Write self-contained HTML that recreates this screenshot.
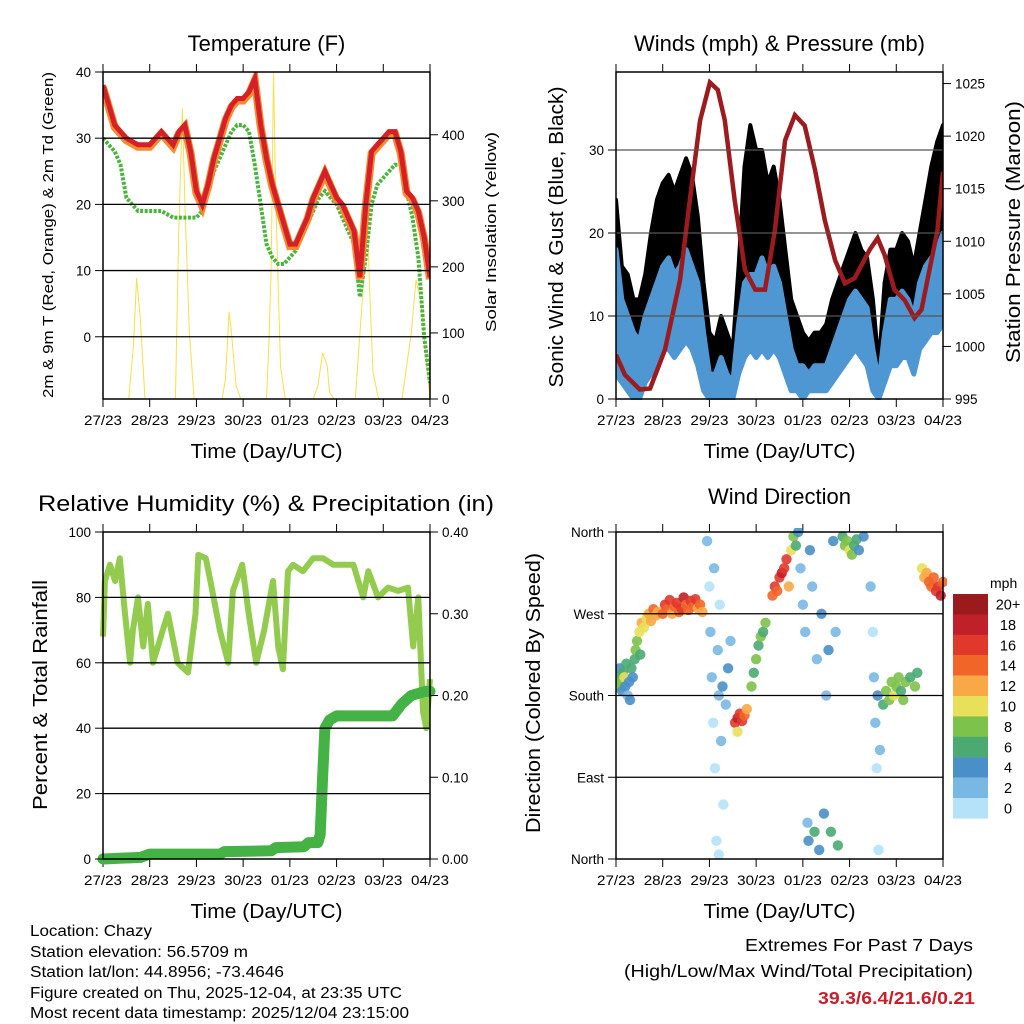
<!DOCTYPE html>
<html><head><meta charset="utf-8"><style>
html,body{margin:0;padding:0;background:#fff;}
svg{display:block;font-family:"Liberation Sans",sans-serif;}
</style></head><body>
<svg id="chart" width="1024" height="1024" viewBox="0 0 1024 1024" xmlns="http://www.w3.org/2000/svg">
<rect width="1024" height="1024" fill="#fff"/>
<g id="g1"></g>
<g id="g2"></g>
<g id="g3"></g>
<g id="g4"></g>
<g font-size="15.5" fill="#000">
<text x="30" y="936" textLength="122" lengthAdjust="spacingAndGlyphs">Location: Chazy</text>
<text x="30" y="957" textLength="218" lengthAdjust="spacingAndGlyphs">Station elevation: 56.5709 m</text>
<text x="30" y="977" textLength="254" lengthAdjust="spacingAndGlyphs">Station lat/lon: 44.8956; -73.4646</text>
<text x="30" y="998" textLength="372" lengthAdjust="spacingAndGlyphs">Figure created on Thu, 2025-12-04, at 23:35 UTC</text>
<text x="30" y="1018" textLength="379" lengthAdjust="spacingAndGlyphs">Most recent data timestamp: 2025/12/04 23:15:00</text>
</g>
<g font-size="17.5">
<text x="745" y="951" textLength="228" lengthAdjust="spacingAndGlyphs">Extremes For Past 7 Days</text>
<text x="624" y="977" textLength="349" lengthAdjust="spacingAndGlyphs">(High/Low/Max Wind/Total Precipitation)</text>
<text x="818" y="1004" textLength="157" lengthAdjust="spacingAndGlyphs" font-weight="bold" fill="#c8202a">39.3/6.4/21.6/0.21</text>
</g>
</svg>
<script>
// ---------- data ----------
const dayLabels=["27/23","28/23","29/23","30/23","01/23","02/23","03/23","04/23"];
const tempTimes=[0,0.125,0.25,0.375,0.5,0.625,0.75,0.875,1,1.125,1.25,1.375,1.5,1.625,1.75,1.875,2,2.125,2.25,2.375,2.5,2.625,2.75,2.875,3,3.125,3.25,3.375,3.5,3.625,3.75,3.875,4,4.125,4.25,4.375,4.5,4.625,4.75,4.875,5,5.125,5.25,5.375,5.5,5.625,5.75,5.875,6,6.125,6.25,6.375,6.5,6.625,6.75,6.875,7];
const tempRed=[38,35,32,31,30,29.5,29,29,29,30,31,30,29,31,32,28,22,20,23,27,30,33,35,36,36,37,39,32,27,23,20,17,14,14,16,18,21,23,25,23,21,20,18,16,9,20,28,29,30,31,31,28,22,21,19,15,9];
const tempDew=[30,29,28,26,21,20,19,19,19,19,19,18.5,18,18,18,18,18,19,22,25,27,29,31,32,32,31,26,20,14,12,11,11,12,13,15,17,19,21,22,21,20,18,16,14,6,12,20,23,24,25,26,26,22,18,12,0,-7];
const solarTimes=[0,0.55,0.65,0.72,0.8,0.9,1.55,1.62,1.7,1.75,1.85,1.95,2.55,2.62,2.7,2.75,2.85,2.95,3.5,3.55,3.6,3.65,3.7,3.8,3.9,4.5,4.6,4.7,4.8,4.85,4.95,5.4,5.55,5.6,5.65,5.7,5.78,5.9,6.4,6.6,6.7,6.8,7];
const solarVals=[0,0,80,183,120,0,0,250,440,300,100,0,0,30,132,100,20,0,0,80,200,495,300,50,0,0,20,70,50,10,0,0,150,200,294,180,40,0,0,100,180,150,0];
const windTimes=tempTimes;
const windLow=[3,2,1,0,0,2,3,5,6,6,5,6,7,6,4,1,0,0,0,0,0,3,5,6,5,6,5,6,5,3,1,1,0,1,1,1,1,2,3,4,5,6,5,4,1,0,2,4,4,5,5,3,6,7,8,8,9];
const windHigh=[18,12,10,8,7,10,12,14,16,17,15,16,18,16,14,8,3,3,5,3,2,9,14,15,15,17,15,16,14,10,6,4,4,3,4,4,4,6,8,10,12,13,12,11,6,2,8,12,12,13,12,10,14,16,17,18,20];
const gustHigh=[24,16,15,12,12,15,20,24,26,27,25,27,29,27,22,14,8,7,10,8,6,16,28,33,30,30,26,28,24,18,12,10,8,7,8,8,9,12,14,16,18,20,18,17,12,4,14,18,18,20,19,16,20,24,28,31,33];
const presTimes=[0,0.19,0.51,0.73,1.05,1.37,1.58,1.8,2.01,2.18,2.33,2.54,2.76,2.98,3.19,3.4,3.62,3.83,4.04,4.26,4.47,4.69,4.9,5.11,5.43,5.6,5.75,5.96,6.18,6.39,6.54,6.71,6.88,7];
const presVals=[999.2,997.3,995.9,996,999.7,1006.3,1013.9,1021.5,1025.1,1024.4,1021.5,1013.9,1007.3,1005.4,1005.4,1011,1019.6,1022,1021,1016.8,1012,1008.2,1006,1006.5,1009.2,1010.3,1008.7,1005.4,1004.4,1002.7,1003.5,1007.3,1011,1016.6];
const rhTimes=[0,0.04,0.15,0.26,0.36,0.47,0.58,0.64,0.75,0.86,0.96,1.07,1.28,1.39,1.6,1.82,1.98,2.04,2.2,2.3,2.5,2.68,2.78,2.98,3.12,3.28,3.45,3.64,3.75,3.85,3.96,4.07,4.28,4.5,4.71,4.93,5.36,5.57,5.68,5.89,6.1,6.32,6.53,6.64,6.75,6.85,6.92,7];
const rhVals=[68,85,90,85,92,75,60,70,80,65,78,60,70,75,60,57,75,93,92,85,70,60,82,90,75,60,70,85,65,58,88,90,88,92,92,90,90,80,88,80,83,82,83,65,80,45,40,55];
const rainTimes=[0,0.8,1.0,2.5,2.6,3.6,3.7,4.3,4.4,4.6,4.65,4.7,4.75,4.85,5.0,6.2,6.4,6.6,6.9,7];
const rainVals=[0,0.002,0.006,0.006,0.009,0.01,0.014,0.015,0.02,0.02,0.03,0.1,0.16,0.17,0.175,0.175,0.19,0.2,0.205,0.205];
const dirTimes=[0.02,0.05,0.08,0.1,0.13,0.15,0.18,0.2,0.22,0.25,0.28,0.3,0.33,0.36,0.4,0.42,0.45,0.5,0.52,0.55,0.6,0.65,0.7,0.75,0.8,0.85,0.9,1.0,1.05,1.1,1.15,1.2,1.25,1.3,1.35,1.4,1.45,1.5,1.55,1.6,1.65,1.7,1.75,1.8,1.85,1.95,2.0,2.02,2.05,2.08,2.1,2.12,2.15,2.18,2.2,2.22,2.25,2.3,2.35,2.4,2.45,2.2,2.28,2.55,2.6,2.65,2.7,2.75,2.8,2.6,2.9,2.95,3.0,3.05,3.1,3.15,3.2,3.35,3.4,3.45,3.5,3.55,3.6,3.65,3.7,3.75,3.8,3.85,3.9,3.95,4.0,4.05,4.1,4.12,4.15,4.2,4.25,4.3,4.35,4.4,4.45,4.5,4.55,4.6,4.65,4.7,4.75,4.85,4.9,4.95,5.0,5.05,5.1,5.15,5.2,5.3,5.45,5.5,5.52,5.55,5.58,5.6,5.62,5.65,5.72,5.78,5.85,5.9,5.95,6.0,6.05,6.1,6.15,6.2,6.3,6.4,6.45,6.55,6.6,6.65,6.7,6.75,6.8,6.85,6.9,6.95,7.0];
const dirVals=[200,190,210,195,185,205,200,190,215,180,195,175,210,200,220,230,240,250,225,260,255,265,270,262,275,268,272,270,280,275,285,270,278,282,272,276,288,280,274,284,278,286,276,280,272,350,300,250,200,150,320,100,20,230,180,280,130,60,170,210,240,5,190,150,155,160,152,158,165,140,190,205,220,235,245,250,260,290,300,295,310,315,320,330,300,340,355,345,360,320,280,250,40,20,340,300,30,220,10,270,50,180,230,30,350,250,15,355,345,350,340,335,345,352,340,355,300,250,200,150,100,180,10,120,170,185,175,195,180,190,200,185,175,195,200,190,205,320,310,315,305,300,310,295,300,290,305];
const dirSpeeds=[6,8,5,9,4,7,10,5,6,3,4,4,7,5,6,8,9,11,7,12,10,11,13,12,14,12,13,14,16,15,17,13,15,17,14,16,18,15,14,16,15,17,13,15,12,2,1,2,3,1,2,1,0,2,3,1,2,1,3,4,2,1,4,16,18,17,16,15,12,10,8,7,9,6,8,7,8,14,16,15,17,18,16,17,13,10,8,6,4,3,3,2,3,5,4,3,6,3,5,4,4,3,4,7,5,3,6,6,8,9,10,8,7,6,5,4,2,1,3,2,1,4,1,3,7,8,9,8,10,9,8,7,8,9,7,8,6,10,12,13,14,15,14,16,17,18,14];
const speedColors=["#b5e2f8","#7ab8e4","#4a8fc8","#4aaa72","#7dc24b","#e8e05a","#f8a845","#f26529","#e0392b","#c0202a","#9b1a1d"];
const speedLabels=["0","2","4","6","8","10","12","14","16","18","20+"];

// ---------- helpers ----------
const NS="http://www.w3.org/2000/svg";
function mk(parent,tag,attrs){const e=document.createElementNS(NS,tag);for(const k in attrs)e.setAttribute(k,attrs[k]);parent.appendChild(e);return e;}
function txt(parent,x,y,s,attrs){const e=mk(parent,'text',Object.assign({x:x,y:y},attrs||{}));e.textContent=s;return e;}
function panel(g,L,T,R,B,opt){
  const sx=d=>L+(R-L)*d/7;
  const sy=v=>B-(B-T)*(v-opt.y0)/(opt.y1-opt.y0);
  const sy2=opt.r?v=>B-(B-T)*(v-opt.r0)/(opt.r1-opt.r0):null;
  const t=txt(g,(L+R)/2,51,opt.title,{'font-size':22,'text-anchor':'middle'});
  
  for(let i=0;i<dayLabels.length;i++){
    const x=sx(i);
    mk(g,'line',{x1:x,y1:T,x2:x,y2:T-8,stroke:'#000','stroke-width':1});
    mk(g,'line',{x1:x,y1:B,x2:x,y2:B+8,stroke:'#000','stroke-width':1});
    const l=txt(g,x,B+26,dayLabels[i],{'font-size':13.5,'text-anchor':'middle',textLength:38,lengthAdjust:'spacingAndGlyphs'});
    
  }
  const xt=txt(g,(L+R)/2,B+59,'Time (Day/UTC)',{'font-size':20,'text-anchor':'middle',textLength:152,lengthAdjust:'spacingAndGlyphs'});
  
  return {sx,sy,sy2};
}
function frame(g,L,T,R,B,opt,sy,sy2){
  opt.grid.forEach(v=>mk(g,'line',{x1:L,x2:R,y1:sy(v),y2:sy(v),stroke:opt.gridColor||'#000','stroke-width':1.3}));
  mk(g,'rect',{x:L,y:T,width:R-L,height:B-T,fill:'none',stroke:'#000','stroke-width':1.5});
  opt.ticks.forEach((v,i)=>{const y=sy(v);mk(g,'line',{x1:L,x2:L-8,y1:y,y2:y,stroke:'#000'});
    const l=txt(g,L-12,y+5,opt.tickLabels[i],{'font-size':13.5,'text-anchor':'end'});
    });
  if(opt.rticks)opt.rticks.forEach((v,i)=>{const y=sy2(v);mk(g,'line',{x1:R,x2:R+8,y1:y,y2:y,stroke:'#000'});
    const l=txt(g,R+12,y+5,opt.rLabels[i],{'font-size':13.5});
    });
}
function vtitle(g,x,cy,s,len,fs,name){const e=txt(g,0,0,s,{'font-size':fs,'text-anchor':'middle',transform:`translate(${x},${cy}) rotate(-90)`,textLength:len,lengthAdjust:'spacingAndGlyphs'});
  }
function pathOf(ts,vs,sx,sy){return ts.map((t,i)=>(i?'L':'M')+sx(t).toFixed(1)+','+sy(vs[i]).toFixed(1)).join(' ');}

// ---------- panel 1 temperature ----------
(function(){
  const g=document.getElementById('g1');const L=103,T=72,R=430,B=399;
  const o={title:'Temperature (F)',y0:-9.4,y1:40,r:true,r0:0,r1:495};
  const {sx,sy,sy2}=panel(g,L,T,R,B,o);
  const clip=mk(g,'clipPath',{id:'c1'});mk(clip,'rect',{x:L,y:T,width:R-L,height:B-T});
  const pg=mk(g,'g',{'clip-path':'url(#c1)'});
  let p=mk(pg,'path',{d:pathOf(solarTimes,solarVals,sx,sy2),fill:'none',stroke:'#f7de4a','stroke-width':1});
  
  p=mk(pg,'path',{d:pathOf(tempTimes,tempDew,sx,sy),fill:'none',stroke:'#4ab53c','stroke-width':4,'stroke-dasharray':'3 1.5'});
  
  p=mk(pg,'path',{d:pathOf(tempTimes,tempRed,sx,sy),fill:'none',stroke:'#f58a2e','stroke-width':8,transform:'translate(0,2)'});
  
  p=mk(pg,'path',{d:pathOf(tempTimes,tempRed,sx,sy),fill:'none',stroke:'#d42026','stroke-width':5});
  
  frame(g,L,T,R,B,{grid:[30,20,10,0],ticks:[40,30,20,10,0],tickLabels:['40','30','20','10','0'],rticks:[0,100,200,300,400],rLabels:['0','100','200','300','400']},sy,sy2);
  vtitle(g,53,235,'2m & 9m T (Red, Orange) & 2m Td (Green)',326,15,'left-axis-title');
  vtitle(g,496,232,'Solar Insolation (Yellow)',200,15,'right-axis-title');
})();

// ---------- panel 2 winds ----------
(function(){
  const g=document.getElementById('g2');const L=616,T=72,R=943,B=399;
  const o={title:'Winds (mph) & Pressure (mb)',y0:0,y1:39.4,r:true,r0:995,r1:1026.1};
  const {sx,sy,sy2}=panel(g,L,T,R,B,o);
  const clip=mk(g,'clipPath',{id:'c2'});mk(clip,'rect',{x:L,y:T-1,width:R-L,height:B-T+2});
  const pg=mk(g,'g',{'clip-path':'url(#c2)'});
  const rev=windTimes.slice().reverse();const lowRev=windLow.slice().reverse();
  let d=pathOf(windTimes,gustHigh,sx,sy)+' '+rev.map((t,i)=>'L'+sx(t).toFixed(1)+','+sy(lowRev[i]).toFixed(1)).join(' ')+'Z';
  let p=mk(pg,'path',{d:d,fill:'#000',stroke:'#000','stroke-width':4,'stroke-linejoin':'round'});
  
  d=pathOf(windTimes,windHigh,sx,sy)+' '+rev.map((t,i)=>'L'+sx(t).toFixed(1)+','+sy(lowRev[i]).toFixed(1)).join(' ')+'Z';
  p=mk(pg,'path',{d:d,fill:'#4f97d2',stroke:'#4f97d2','stroke-width':5,'stroke-linejoin':'round'});
  
  p=mk(pg,'path',{d:pathOf(presTimes,presVals,sx,sy2),fill:'none',stroke:'#9c1b1e','stroke-width':4.5});
  
  frame(g,L,T,R,B,{grid:[10,20,30],gridColor:'#555',ticks:[0,10,20,30],tickLabels:['0','10','20','30'],rticks:[995,1000,1005,1010,1015,1020,1025],rLabels:['995','1000','1005','1010','1015','1020','1025']},sy,sy2);
  vtitle(g,563,237,'Sonic Wind & Gust (Blue, Black)',301,20,'left-axis-title');
  vtitle(g,1020,232,'Station Pressure (Maroon)',262,20,'right-axis-title');
})();

// ---------- panel 3 humidity ----------
(function(){
  const g=document.getElementById('g3');const L=103,T=532,R=430,B=859;
  const o={title:'Relative Humidity (%) & Precipitation (in)',y0:0,y1:100,r:true,r0:0,r1:0.4};
  const {sx,sy,sy2}=panel(g,L,T,R,B,o);
  const tt=g.querySelector('text');tt.setAttribute('y',511);tt.setAttribute('textLength',456);tt.setAttribute('lengthAdjust','spacingAndGlyphs');tt.setAttribute('x',266);
  const clip=mk(g,'clipPath',{id:'c3'});mk(clip,'rect',{x:L-6,y:T,width:R-L+12,height:B-T+6});
  const pg=mk(g,'g',{'clip-path':'url(#c3)'});
  let p=mk(pg,'path',{d:pathOf(rhTimes,rhVals,sx,sy),fill:'none',stroke:'#92cb4e','stroke-width':6,'stroke-linejoin':'round'});
  
  p=mk(pg,'path',{d:pathOf(rainTimes,rainVals,sx,sy2),fill:'none',stroke:'#45b245','stroke-width':11,'stroke-linecap':'round','stroke-linejoin':'round'});
  
  frame(g,L,T,R,B,{grid:[80,60,40,20],ticks:[0,20,40,60,80,100],tickLabels:['0','20','40','60','80','100'],rticks:[0,0.1,0.2,0.3,0.4],rLabels:['0.00','0.10','0.20','0.30','0.40']},sy,sy2);
  vtitle(g,47,695,'Percent & Total Rainfall',230,20,'left-axis-title');
})();

// ---------- panel 4 wind direction ----------
(function(){
  const g=document.getElementById('g4');const L=616,T=532,R=943,B=859;
  const o={title:'Wind Direction',y0:0,y1:360};
  const {sx,sy}=panel(g,L,T,R,B,o);
  g.querySelector('text').setAttribute('y',504);
  const clip=mk(g,'clipPath',{id:'c4'});mk(clip,'rect',{x:L,y:T-4,width:R-L+4,height:B-T+8});
  const pg=mk(g,'g',{'clip-path':'url(#c4)'});
  for(let i=0;i<dirTimes.length;i++){
    const k=Math.min(10,Math.floor(dirSpeeds[i]/2));
    const c=mk(pg,'circle',{cx:sx(dirTimes[i]).toFixed(1),cy:sy(dirVals[i]).toFixed(1),r:5.2,fill:speedColors[k],'fill-opacity':0.9});
    
    
  }
  frame(g,L,T,R,B,{grid:[270,180,90],ticks:[0,90,180,270,360],tickLabels:['North','East','South','West','North']},sy);
  vtitle(g,540,693,'Direction (Colored By Speed)',280,20,'left-axis-title');
  const lg=mk(g,'g',{});
  txt(lg,990,588,'mph',{'font-size':14});
  for(let i=0;i<speedColors.length;i++){
    const j=speedColors.length-1-i;const y=594+i*20.4;
    const r=mk(lg,'rect',{x:953,y:y,width:35,height:20.6,fill:speedColors[j]});
    
    txt(lg,1008,y+15.5,speedLabels[j],{'font-size':14.5,'text-anchor':'middle'});
  }
})();
</script>
</body></html>
